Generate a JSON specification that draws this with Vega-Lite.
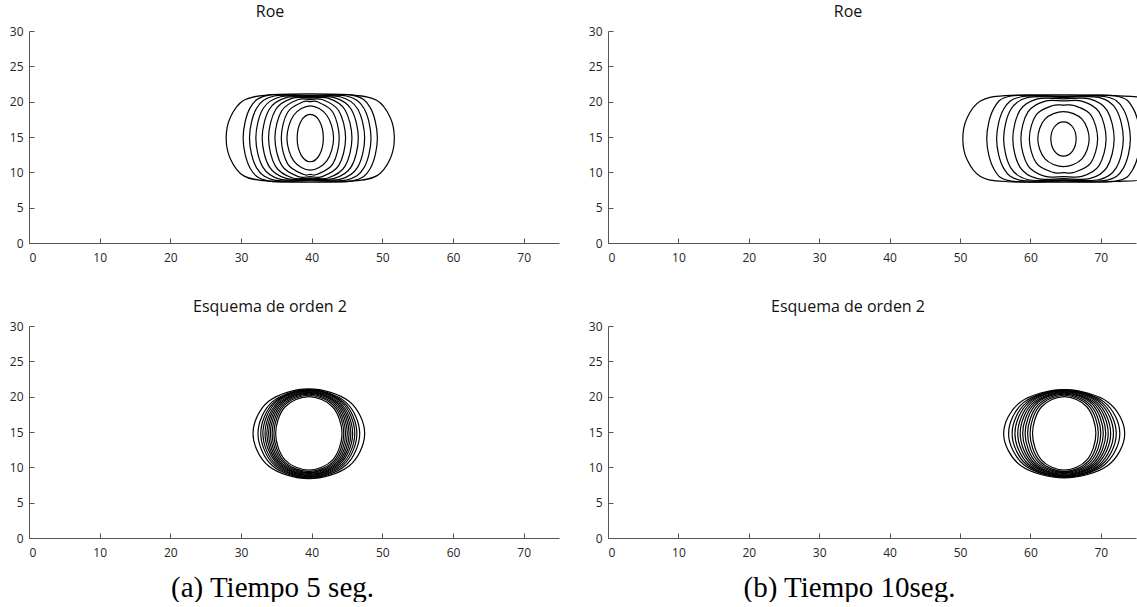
{
"$schema":"https://vega.github.io/schema/vega-lite/v6.json",
"padding":{"left":9,"top":4,"right":0,"bottom":0},
"background":"white",
"config":{
 "view":{"stroke":null},
 "axis":{"labelFont":"Open Sans","labelFontSize":12,"labelColor":"#262626","domainColor":"#555555","tickColor":"#555555","tickSize":-5,"grid":false,"titleFont":"Liberation Serif","titleFontSize":29,"titleFontWeight":"normal","titleColor":"#000000"},
 "axisX":{"labelPadding":14},
 "axisY":{"labelPadding":11},
 "title":{"font":"Open Sans","fontSize":16,"fontWeight":"normal","color":"#111111","offset":5,"dx":-24},
 "line":{"color":"#000000","strokeWidth":1.2,"interpolate":"cardinal-closed","clip":true}
},
"datasets":{
"A":[
{"c":1,"i":0,"x":27.9,"y":14.85},{"c":1,"i":1,"x":28.5,"y":17.8},{"c":1,"i":2,"x":30.4,"y":20.2},{"c":1,"i":3,"x":33.9,"y":20.95},{"c":1,"i":4,"x":39.8,"y":21.1},{"c":1,"i":5,"x":45.7,"y":20.95},{"c":1,"i":6,"x":49.2,"y":20.2},{"c":1,"i":7,"x":51.1,"y":17.8},{"c":1,"i":8,"x":51.7,"y":14.85},{"c":1,"i":9,"x":51.1,"y":11.9},{"c":1,"i":10,"x":49.2,"y":9.5},{"c":1,"i":11,"x":45.7,"y":8.75},{"c":1,"i":12,"x":39.8,"y":8.6},{"c":1,"i":13,"x":33.9,"y":8.75},{"c":1,"i":14,"x":30.4,"y":9.5},{"c":1,"i":15,"x":28.5,"y":11.9},
{"c":2,"i":0,"x":39.8,"y":20.9},{"c":2,"i":1,"x":45.8,"y":20.9},{"c":2,"i":2,"x":48.29,"y":19.15},{"c":2,"i":3,"x":49.3,"y":14.85},{"c":2,"i":4,"x":48.29,"y":10.55},{"c":2,"i":5,"x":45.8,"y":8.8},{"c":2,"i":6,"x":39.8,"y":8.8},{"c":2,"i":7,"x":33.8,"y":8.8},{"c":2,"i":8,"x":31.31,"y":10.55},{"c":2,"i":9,"x":30.3,"y":14.85},{"c":2,"i":10,"x":31.31,"y":19.15},{"c":2,"i":11,"x":33.8,"y":20.9},
{"c":3,"i":0,"x":39.8,"y":20.8},{"c":3,"i":1,"x":44.9,"y":20.8},{"c":3,"i":2,"x":47.39,"y":19.07},{"c":3,"i":3,"x":48.4,"y":14.85},{"c":3,"i":4,"x":47.39,"y":10.63},{"c":3,"i":5,"x":44.9,"y":8.9},{"c":3,"i":6,"x":39.8,"y":8.9},{"c":3,"i":7,"x":34.7,"y":8.9},{"c":3,"i":8,"x":32.21,"y":10.63},{"c":3,"i":9,"x":31.2,"y":14.85},{"c":3,"i":10,"x":32.21,"y":19.07},{"c":3,"i":11,"x":34.7,"y":20.8},
{"c":4,"i":0,"x":39.8,"y":20.7},{"c":4,"i":1,"x":44.0,"y":20.7},{"c":4,"i":2,"x":46.49,"y":19.0},{"c":4,"i":3,"x":47.5,"y":14.85},{"c":4,"i":4,"x":46.49,"y":10.7},{"c":4,"i":5,"x":44.0,"y":9.0},{"c":4,"i":6,"x":39.8,"y":9.0},{"c":4,"i":7,"x":35.6,"y":9.0},{"c":4,"i":8,"x":33.11,"y":10.7},{"c":4,"i":9,"x":32.1,"y":14.85},{"c":4,"i":10,"x":33.11,"y":19.0},{"c":4,"i":11,"x":35.6,"y":20.7},
{"c":5,"i":0,"x":39.8,"y":20.6},{"c":5,"i":1,"x":43.1,"y":20.6},{"c":5,"i":2,"x":45.59,"y":18.93},{"c":5,"i":3,"x":46.6,"y":14.85},{"c":5,"i":4,"x":45.59,"y":10.77},{"c":5,"i":5,"x":43.1,"y":9.1},{"c":5,"i":6,"x":39.8,"y":9.1},{"c":5,"i":7,"x":36.5,"y":9.1},{"c":5,"i":8,"x":34.01,"y":10.77},{"c":5,"i":9,"x":33.0,"y":14.85},{"c":5,"i":10,"x":34.01,"y":18.93},{"c":5,"i":11,"x":36.5,"y":20.6},
{"c":6,"i":0,"x":39.8,"y":20.5},{"c":6,"i":1,"x":42.3,"y":20.5},{"c":6,"i":2,"x":44.71,"y":18.86},{"c":6,"i":3,"x":45.7,"y":14.85},{"c":6,"i":4,"x":44.71,"y":10.84},{"c":6,"i":5,"x":42.3,"y":9.2},{"c":6,"i":6,"x":39.8,"y":9.2},{"c":6,"i":7,"x":37.3,"y":9.2},{"c":6,"i":8,"x":34.89,"y":10.84},{"c":6,"i":9,"x":33.9,"y":14.85},{"c":6,"i":10,"x":34.89,"y":18.86},{"c":6,"i":11,"x":37.3,"y":20.5},
{"c":7,"i":0,"x":39.8,"y":20.3},{"c":7,"i":1,"x":41.5,"y":20.3},{"c":7,"i":2,"x":43.84,"y":18.72},{"c":7,"i":3,"x":44.8,"y":14.85},{"c":7,"i":4,"x":43.84,"y":10.98},{"c":7,"i":5,"x":41.5,"y":9.4},{"c":7,"i":6,"x":39.8,"y":9.4},{"c":7,"i":7,"x":38.1,"y":9.4},{"c":7,"i":8,"x":35.76,"y":10.98},{"c":7,"i":9,"x":34.8,"y":14.85},{"c":7,"i":10,"x":35.76,"y":18.72},{"c":7,"i":11,"x":38.1,"y":20.3},
{"c":8,"i":0,"x":39.8,"y":20.0},{"c":8,"i":1,"x":40.8,"y":19.98},{"c":8,"i":2,"x":43.0,"y":18.51},{"c":8,"i":3,"x":43.9,"y":14.85},{"c":8,"i":4,"x":43.0,"y":11.19},{"c":8,"i":5,"x":40.8,"y":9.72},{"c":8,"i":6,"x":39.8,"y":9.7},{"c":8,"i":7,"x":38.8,"y":9.72},{"c":8,"i":8,"x":36.6,"y":11.19},{"c":8,"i":9,"x":35.7,"y":14.85},{"c":8,"i":10,"x":36.6,"y":18.51},{"c":8,"i":11,"x":38.8,"y":19.98},
{"c":9,"i":0,"x":39.8,"y":19.4},{"c":9,"i":1,"x":42.14,"y":18.08},{"c":9,"i":2,"x":43.1,"y":14.85},{"c":9,"i":3,"x":42.14,"y":11.62},{"c":9,"i":4,"x":39.8,"y":10.3},{"c":9,"i":5,"x":37.46,"y":11.62},{"c":9,"i":6,"x":36.5,"y":14.85},{"c":9,"i":7,"x":37.46,"y":18.08},
{"c":10,"i":0,"x":39.8,"y":18.2},{"c":10,"i":1,"x":41.11,"y":17.23},{"c":10,"i":2,"x":41.65,"y":14.85},{"c":10,"i":3,"x":41.11,"y":12.47},{"c":10,"i":4,"x":39.8,"y":11.5},{"c":10,"i":5,"x":38.49,"y":12.47},{"c":10,"i":6,"x":37.95,"y":14.85},{"c":10,"i":7,"x":38.49,"y":17.23}
],
"B":[
{"c":1,"i":0,"x":50.4,"y":14.75},{"c":1,"i":1,"x":51.0,"y":17.7},{"c":1,"i":2,"x":52.9,"y":20.1},{"c":1,"i":3,"x":56.4,"y":20.85},{"c":1,"i":4,"x":64.7,"y":20.95},{"c":1,"i":5,"x":72.0,"y":20.85},{"c":1,"i":6,"x":77.0,"y":20.3},{"c":1,"i":7,"x":79.0,"y":17.8},{"c":1,"i":8,"x":79.6,"y":14.75},{"c":1,"i":9,"x":79.0,"y":11.7},{"c":1,"i":10,"x":77.0,"y":9.2},{"c":1,"i":11,"x":72.0,"y":8.7},{"c":1,"i":12,"x":64.7,"y":8.6},{"c":1,"i":13,"x":56.4,"y":8.7},{"c":1,"i":14,"x":52.9,"y":9.4},{"c":1,"i":15,"x":51.0,"y":11.8},
{"c":2,"i":0,"x":64.7,"y":20.8},{"c":2,"i":1,"x":72.1,"y":20.8},{"c":2,"i":2,"x":74.59,"y":19.05},{"c":2,"i":3,"x":75.6,"y":14.75},{"c":2,"i":4,"x":74.59,"y":10.49},{"c":2,"i":5,"x":72.1,"y":8.75},{"c":2,"i":6,"x":64.7,"y":8.75},{"c":2,"i":7,"x":57.3,"y":8.75},{"c":2,"i":8,"x":54.81,"y":10.49},{"c":2,"i":9,"x":53.8,"y":14.75},{"c":2,"i":10,"x":54.81,"y":19.05},{"c":2,"i":11,"x":57.3,"y":20.8},
{"c":3,"i":0,"x":64.7,"y":20.7},{"c":3,"i":1,"x":70.7,"y":20.7},{"c":3,"i":2,"x":73.19,"y":18.97},{"c":3,"i":3,"x":74.2,"y":14.75},{"c":3,"i":4,"x":73.19,"y":10.56},{"c":3,"i":5,"x":70.7,"y":8.85},{"c":3,"i":6,"x":64.7,"y":8.85},{"c":3,"i":7,"x":58.7,"y":8.85},{"c":3,"i":8,"x":56.21,"y":10.56},{"c":3,"i":9,"x":55.2,"y":14.75},{"c":3,"i":10,"x":56.21,"y":18.97},{"c":3,"i":11,"x":58.7,"y":20.7},
{"c":4,"i":0,"x":64.7,"y":20.6},{"c":4,"i":1,"x":69.7,"y":20.6},{"c":4,"i":2,"x":72.19,"y":18.9},{"c":4,"i":3,"x":73.2,"y":14.75},{"c":4,"i":4,"x":72.19,"y":10.63},{"c":4,"i":5,"x":69.7,"y":8.95},{"c":4,"i":6,"x":64.7,"y":8.95},{"c":4,"i":7,"x":59.7,"y":8.95},{"c":4,"i":8,"x":57.21,"y":10.63},{"c":4,"i":9,"x":56.2,"y":14.75},{"c":4,"i":10,"x":57.21,"y":18.9},{"c":4,"i":11,"x":59.7,"y":20.6},
{"c":5,"i":0,"x":64.7,"y":20.4},{"c":5,"i":1,"x":68.4,"y":20.4},{"c":5,"i":2,"x":70.89,"y":18.76},{"c":5,"i":3,"x":71.9,"y":14.75},{"c":5,"i":4,"x":70.89,"y":10.74},{"c":5,"i":5,"x":68.4,"y":9.1},{"c":5,"i":6,"x":64.7,"y":9.1},{"c":5,"i":7,"x":61.0,"y":9.1},{"c":5,"i":8,"x":58.51,"y":10.74},{"c":5,"i":9,"x":57.5,"y":14.75},{"c":5,"i":10,"x":58.51,"y":18.76},{"c":5,"i":11,"x":61.0,"y":20.4},
{"c":6,"i":0,"x":64.7,"y":20.1},{"c":6,"i":1,"x":67.3,"y":20.08},{"c":6,"i":2,"x":69.75,"y":18.55},{"c":6,"i":3,"x":70.75,"y":14.75},{"c":6,"i":4,"x":69.75,"y":10.95},{"c":6,"i":5,"x":67.3,"y":9.42},{"c":6,"i":6,"x":64.7,"y":9.4},{"c":6,"i":7,"x":62.1,"y":9.42},{"c":6,"i":8,"x":59.65,"y":10.95},{"c":6,"i":9,"x":58.65,"y":14.75},{"c":6,"i":10,"x":59.65,"y":18.55},{"c":6,"i":11,"x":62.1,"y":20.08},
{"c":7,"i":0,"x":64.7,"y":19.5},{"c":7,"i":1,"x":66.2,"y":19.45},{"c":7,"i":2,"x":68.58,"y":18.12},{"c":7,"i":3,"x":69.55,"y":14.75},{"c":7,"i":4,"x":68.58,"y":11.34},{"c":7,"i":5,"x":66.2,"y":10.0},{"c":7,"i":6,"x":64.7,"y":9.95},{"c":7,"i":7,"x":63.2,"y":10.0},{"c":7,"i":8,"x":60.82,"y":11.34},{"c":7,"i":9,"x":59.85,"y":14.75},{"c":7,"i":10,"x":60.82,"y":18.12},{"c":7,"i":11,"x":63.2,"y":19.45},
{"c":8,"i":0,"x":64.7,"y":18.6},{"c":8,"i":1,"x":67.33,"y":17.52},{"c":8,"i":2,"x":68.35,"y":14.75},{"c":8,"i":3,"x":67.33,"y":11.91},{"c":8,"i":4,"x":64.7,"y":10.8},{"c":8,"i":5,"x":62.07,"y":11.91},{"c":8,"i":6,"x":61.05,"y":14.75},{"c":8,"i":7,"x":62.07,"y":17.52},
{"c":9,"i":0,"x":64.7,"y":17.15},{"c":9,"i":1,"x":65.98,"y":16.45},{"c":9,"i":2,"x":66.5,"y":14.75},{"c":9,"i":3,"x":65.98,"y":13.01},{"c":9,"i":4,"x":64.7,"y":12.3},{"c":9,"i":5,"x":63.42,"y":13.01},{"c":9,"i":6,"x":62.9,"y":14.75},{"c":9,"i":7,"x":63.42,"y":16.45}
],
"C":[
{"c":1,"i":0,"x":39.6,"y":21.1},{"c":1,"i":1,"x":45.29,"y":19.34},{"c":1,"i":2,"x":47.5,"y":14.8},{"c":1,"i":3,"x":45.29,"y":10.19},{"c":1,"i":4,"x":39.6,"y":8.4},{"c":1,"i":5,"x":33.91,"y":10.19},{"c":1,"i":6,"x":31.7,"y":14.8},{"c":1,"i":7,"x":33.91,"y":19.34},
{"c":2,"i":0,"x":39.6,"y":21.0},{"c":2,"i":1,"x":44.78,"y":19.26},{"c":2,"i":2,"x":46.8,"y":14.8},{"c":2,"i":3,"x":44.78,"y":10.26},{"c":2,"i":4,"x":39.6,"y":8.5},{"c":2,"i":5,"x":34.42,"y":10.26},{"c":2,"i":6,"x":32.4,"y":14.8},{"c":2,"i":7,"x":34.42,"y":19.26},
{"c":3,"i":0,"x":39.6,"y":20.95},{"c":3,"i":1,"x":44.5,"y":19.23},{"c":3,"i":2,"x":46.4,"y":14.8},{"c":3,"i":3,"x":44.5,"y":10.34},{"c":3,"i":4,"x":39.6,"y":8.6},{"c":3,"i":5,"x":34.7,"y":10.34},{"c":3,"i":6,"x":32.8,"y":14.8},{"c":3,"i":7,"x":34.7,"y":19.23},
{"c":4,"i":0,"x":39.6,"y":20.9},{"c":4,"i":1,"x":44.28,"y":19.19},{"c":4,"i":2,"x":46.1,"y":14.8},{"c":4,"i":3,"x":44.28,"y":10.41},{"c":4,"i":4,"x":39.6,"y":8.7},{"c":4,"i":5,"x":34.92,"y":10.41},{"c":4,"i":6,"x":33.1,"y":14.8},{"c":4,"i":7,"x":34.92,"y":19.19},
{"c":5,"i":0,"x":39.6,"y":20.8},{"c":5,"i":1,"x":44.06,"y":19.12},{"c":5,"i":2,"x":45.8,"y":14.8},{"c":5,"i":3,"x":44.06,"y":10.48},{"c":5,"i":4,"x":39.6,"y":8.8},{"c":5,"i":5,"x":35.14,"y":10.48},{"c":5,"i":6,"x":33.4,"y":14.8},{"c":5,"i":7,"x":35.14,"y":19.12},
{"c":6,"i":0,"x":39.6,"y":20.7},{"c":6,"i":1,"x":43.88,"y":19.05},{"c":6,"i":2,"x":45.55,"y":14.8},{"c":6,"i":3,"x":43.88,"y":10.55},{"c":6,"i":4,"x":39.6,"y":8.9},{"c":6,"i":5,"x":35.32,"y":10.55},{"c":6,"i":6,"x":33.65,"y":14.8},{"c":6,"i":7,"x":35.32,"y":19.05},
{"c":7,"i":0,"x":39.6,"y":20.6},{"c":7,"i":1,"x":43.7,"y":18.98},{"c":7,"i":2,"x":45.3,"y":14.8},{"c":7,"i":3,"x":43.7,"y":10.62},{"c":7,"i":4,"x":39.6,"y":9.0},{"c":7,"i":5,"x":35.5,"y":10.62},{"c":7,"i":6,"x":33.9,"y":14.8},{"c":7,"i":7,"x":35.5,"y":18.98},
{"c":8,"i":0,"x":39.6,"y":20.5},{"c":8,"i":1,"x":43.52,"y":18.9},{"c":8,"i":2,"x":45.05,"y":14.8},{"c":8,"i":3,"x":43.52,"y":10.7},{"c":8,"i":4,"x":39.6,"y":9.1},{"c":8,"i":5,"x":35.68,"y":10.7},{"c":8,"i":6,"x":34.15,"y":14.8},{"c":8,"i":7,"x":35.68,"y":18.9},
{"c":9,"i":0,"x":39.6,"y":20.35},{"c":9,"i":1,"x":43.34,"y":18.8},{"c":9,"i":2,"x":44.8,"y":14.8},{"c":9,"i":3,"x":43.34,"y":10.8},{"c":9,"i":4,"x":39.6,"y":9.25},{"c":9,"i":5,"x":35.86,"y":10.8},{"c":9,"i":6,"x":34.4,"y":14.8},{"c":9,"i":7,"x":35.86,"y":18.8},
{"c":10,"i":0,"x":39.6,"y":20.2},{"c":10,"i":1,"x":43.16,"y":18.69},{"c":10,"i":2,"x":44.55,"y":14.8},{"c":10,"i":3,"x":43.16,"y":10.91},{"c":10,"i":4,"x":39.6,"y":9.4},{"c":10,"i":5,"x":36.04,"y":10.91},{"c":10,"i":6,"x":34.65,"y":14.8},{"c":10,"i":7,"x":36.04,"y":18.69},
{"c":11,"i":0,"x":39.6,"y":20.0},{"c":11,"i":1,"x":42.98,"y":18.54},{"c":11,"i":2,"x":44.3,"y":14.8},{"c":11,"i":3,"x":42.98,"y":11.06},{"c":11,"i":4,"x":39.6,"y":9.6},{"c":11,"i":5,"x":36.22,"y":11.06},{"c":11,"i":6,"x":34.9,"y":14.8},{"c":11,"i":7,"x":36.22,"y":18.54}
],
"D":[
{"c":1,"i":0,"x":64.8,"y":21.0},{"c":1,"i":1,"x":70.99,"y":19.26},{"c":1,"i":2,"x":73.4,"y":14.8},{"c":1,"i":3,"x":70.99,"y":10.26},{"c":1,"i":4,"x":64.8,"y":8.5},{"c":1,"i":5,"x":58.61,"y":10.26},{"c":1,"i":6,"x":56.2,"y":14.8},{"c":1,"i":7,"x":58.61,"y":19.26},
{"c":2,"i":0,"x":64.8,"y":20.95},{"c":2,"i":1,"x":70.49,"y":19.23},{"c":2,"i":2,"x":72.7,"y":14.8},{"c":2,"i":3,"x":70.49,"y":10.34},{"c":2,"i":4,"x":64.8,"y":8.6},{"c":2,"i":5,"x":59.11,"y":10.34},{"c":2,"i":6,"x":56.9,"y":14.8},{"c":2,"i":7,"x":59.11,"y":19.23},
{"c":3,"i":0,"x":64.8,"y":20.9},{"c":3,"i":1,"x":70.13,"y":19.19},{"c":3,"i":2,"x":72.2,"y":14.8},{"c":3,"i":3,"x":70.13,"y":10.37},{"c":3,"i":4,"x":64.8,"y":8.65},{"c":3,"i":5,"x":59.47,"y":10.37},{"c":3,"i":6,"x":57.4,"y":14.8},{"c":3,"i":7,"x":59.47,"y":19.19},
{"c":4,"i":0,"x":64.8,"y":20.85},{"c":4,"i":1,"x":69.84,"y":19.16},{"c":4,"i":2,"x":71.8,"y":14.8},{"c":4,"i":3,"x":69.84,"y":10.41},{"c":4,"i":4,"x":64.8,"y":8.7},{"c":4,"i":5,"x":59.76,"y":10.41},{"c":4,"i":6,"x":57.8,"y":14.8},{"c":4,"i":7,"x":59.76,"y":19.16},
{"c":5,"i":0,"x":64.8,"y":20.8},{"c":5,"i":1,"x":69.55,"y":19.12},{"c":5,"i":2,"x":71.4,"y":14.8},{"c":5,"i":3,"x":69.55,"y":10.48},{"c":5,"i":4,"x":64.8,"y":8.8},{"c":5,"i":5,"x":60.05,"y":10.48},{"c":5,"i":6,"x":58.2,"y":14.8},{"c":5,"i":7,"x":60.05,"y":19.12},
{"c":6,"i":0,"x":64.8,"y":20.7},{"c":6,"i":1,"x":69.3,"y":19.05},{"c":6,"i":2,"x":71.05,"y":14.8},{"c":6,"i":3,"x":69.3,"y":10.55},{"c":6,"i":4,"x":64.8,"y":8.9},{"c":6,"i":5,"x":60.3,"y":10.55},{"c":6,"i":6,"x":58.55,"y":14.8},{"c":6,"i":7,"x":60.3,"y":19.05},
{"c":7,"i":0,"x":64.8,"y":20.6},{"c":7,"i":1,"x":69.05,"y":18.98},{"c":7,"i":2,"x":70.7,"y":14.8},{"c":7,"i":3,"x":69.05,"y":10.62},{"c":7,"i":4,"x":64.8,"y":9.0},{"c":7,"i":5,"x":60.55,"y":10.62},{"c":7,"i":6,"x":58.9,"y":14.8},{"c":7,"i":7,"x":60.55,"y":18.98},
{"c":8,"i":0,"x":64.8,"y":20.5},{"c":8,"i":1,"x":68.8,"y":18.9},{"c":8,"i":2,"x":70.35,"y":14.8},{"c":8,"i":3,"x":68.8,"y":10.7},{"c":8,"i":4,"x":64.8,"y":9.1},{"c":8,"i":5,"x":60.8,"y":10.7},{"c":8,"i":6,"x":59.25,"y":14.8},{"c":8,"i":7,"x":60.8,"y":18.9},
{"c":9,"i":0,"x":64.8,"y":20.35},{"c":9,"i":1,"x":68.54,"y":18.8},{"c":9,"i":2,"x":70.0,"y":14.8},{"c":9,"i":3,"x":68.54,"y":10.8},{"c":9,"i":4,"x":64.8,"y":9.25},{"c":9,"i":5,"x":61.06,"y":10.8},{"c":9,"i":6,"x":59.6,"y":14.8},{"c":9,"i":7,"x":61.06,"y":18.8},
{"c":10,"i":0,"x":64.8,"y":20.2},{"c":10,"i":1,"x":68.29,"y":18.69},{"c":10,"i":2,"x":69.65,"y":14.8},{"c":10,"i":3,"x":68.29,"y":10.91},{"c":10,"i":4,"x":64.8,"y":9.4},{"c":10,"i":5,"x":61.31,"y":10.91},{"c":10,"i":6,"x":59.95,"y":14.8},{"c":10,"i":7,"x":61.31,"y":18.69},
{"c":11,"i":0,"x":64.8,"y":20.0},{"c":11,"i":1,"x":68.04,"y":18.54},{"c":11,"i":2,"x":69.3,"y":14.8},{"c":11,"i":3,"x":68.04,"y":11.06},{"c":11,"i":4,"x":64.8,"y":9.6},{"c":11,"i":5,"x":61.56,"y":11.06},{"c":11,"i":6,"x":60.3,"y":14.8},{"c":11,"i":7,"x":61.56,"y":18.54}
]
},
"columns":2,
"spacing":{"row":83,"column":49},
"bounds":"flush",
"concat":[
{"width":530,"height":212,"title":{"text":"Roe"},"data":{"name":"A"},"mark":{"type":"line"},
 "encoding":{"x":{"field":"x","type":"quantitative","scale":{"domain":[0,75],"nice":false,"zero":false},"axis":{"values":[0,10,20,30,40,50,60,70],"title":null}},
 "y":{"field":"y","type":"quantitative","scale":{"domain":[0,30],"nice":false},"axis":{"values":[0,5,10,15,20,25,30],"title":null}},
 "detail":{"field":"c","type":"nominal"},"order":{"field":"i","type":"quantitative"}}},
{"width":528,"height":212,"title":{"text":"Roe"},"data":{"name":"B"},"mark":{"type":"line"},
 "encoding":{"x":{"field":"x","type":"quantitative","scale":{"domain":[0,75],"nice":false,"zero":false},"axis":{"values":[0,10,20,30,40,50,60,70],"title":null}},
 "y":{"field":"y","type":"quantitative","scale":{"domain":[0,30],"nice":false},"axis":{"values":[0,5,10,15,20,25,30],"title":null}},
 "detail":{"field":"c","type":"nominal"},"order":{"field":"i","type":"quantitative"}}},
{"width":530,"height":212,"title":{"text":"Esquema de orden 2"},"data":{"name":"C"},"mark":{"type":"line"},
 "encoding":{"x":{"field":"x","type":"quantitative","scale":{"domain":[0,75],"nice":false,"zero":false},"axis":{"values":[0,10,20,30,40,50,60,70],"title":"(a)  Tiempo 5 seg.","titleX":243,"titleY":49,"titleBaseline":"middle","titleAlign":"center"}},
 "y":{"field":"y","type":"quantitative","scale":{"domain":[0,30],"nice":false},"axis":{"values":[0,5,10,15,20,25,30],"title":null}},
 "detail":{"field":"c","type":"nominal"},"order":{"field":"i","type":"quantitative"}}},
{"width":528,"height":212,"title":{"text":"Esquema de orden 2"},"data":{"name":"D"},"mark":{"type":"line"},
 "encoding":{"x":{"field":"x","type":"quantitative","scale":{"domain":[0,75],"nice":false,"zero":false},"axis":{"values":[0,10,20,30,40,50,60,70],"title":"(b)  Tiempo 10seg.","titleX":241,"titleY":49,"titleBaseline":"middle","titleAlign":"center"}},
 "y":{"field":"y","type":"quantitative","scale":{"domain":[0,30],"nice":false},"axis":{"values":[0,5,10,15,20,25,30],"title":null}},
 "detail":{"field":"c","type":"nominal"},"order":{"field":"i","type":"quantitative"}}}
]
}
